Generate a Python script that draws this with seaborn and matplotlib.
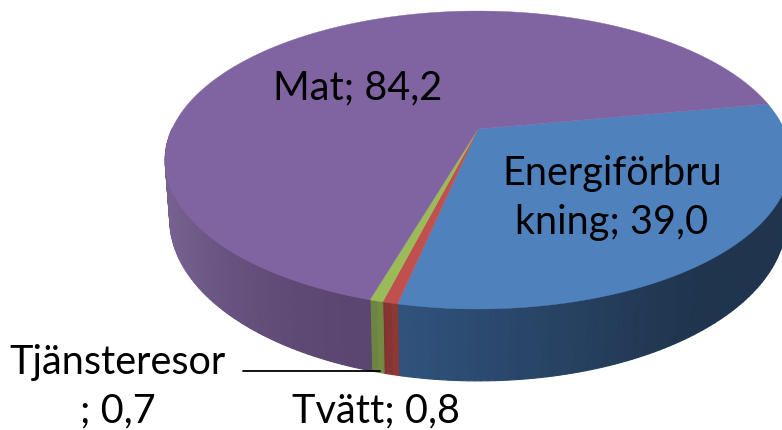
import numpy as np
import seaborn as sns
import matplotlib
matplotlib.use('Agg')
import matplotlib.pyplot as plt
from matplotlib.colors import to_rgb

labels = ['Energiförbru\nkning; 39,0', 'Tvätt; 0,8', 'Tjänsteresor\n; 0,7', 'Mat; 84,2']
values = [39.0, 0.8, 0.7, 84.2]
top_colors = ['#4f81bd', '#c0504d', '#9bbb59', '#8064a2']
wall_light = ['#30527c', '#8c3836', '#728a42', '#5a4670']
wall_dark = ['#1f344d', '#803230', '#6a8040', '#75608f']

sns.set_theme(style='white')
plt.rcParams['font.family'] = ['Lato', 'DejaVu Sans']

# pie geometry in picture pixels
cx, cy = 478, 130
rx, ry, k = 306, 142.5, 0.208
depth = 57
start = 10.5


def project(deg, lift=0.0, shrink=1.0):
    u = np.cos(np.radians(deg))
    v = np.sin(np.radians(deg))
    w = 1 + k * v
    return cx + shrink * rx * u / w, cy - ry * v / w + lift / w


fig, ax = plt.subplots(figsize=(7.82, 4.31), dpi=100)
fig.subplots_adjust(0, 0, 1, 1)
ax.set_xlim(0, 782)
ax.set_ylim(431, 0)
ax.axis('off')

angles = start - np.cumsum([0] + values) / sum(values) * 360
palette = sns.color_palette(top_colors)

# side wall, split in thin strips for the gradient
for i in range(4):
    a0, a1 = angles[i], angles[i + 1]
    steps = np.arange(a0, a1, -1.0).tolist() + [a1]
    for j in range(len(steps) - 1):
        b0, b1 = steps[j], steps[j + 1]
        mid = (b0 + b1) / 2
        if np.sin(np.radians(mid)) > 0.0:
            continue
        x0, y0 = project(b0)
        x1, y1 = project(b1)
        x2, y2 = project(b1, depth, 0.985)
        x3, y3 = project(b0, depth, 0.985)
        xm = (x0 + x1) / 2
        if i == 0:
            t = np.clip((xm - 400) / 300, 0, 1)
        elif i == 3:
            t = np.clip((370 - xm) / 200, 0, 1) ** 2
        else:
            t = j / max(len(steps) - 2, 1)
        c = np.array(to_rgb(wall_light[i])) * (1 - t) + np.array(to_rgb(wall_dark[i])) * t
        ax.fill([x0, x1, x2, x3], [y0, y1, y2, y3], color=c, lw=0.8, zorder=2)

# top face
for i in range(4):
    theta = np.linspace(angles[i], angles[i + 1], 200)
    xs, ys = project(theta)
    ax.fill(np.r_[cx, xs], np.r_[cy, ys], color=palette[i], lw=0.3, zorder=3)

ax.plot([243, 380], [372, 372], color='black', lw=1.3, zorder=4)

fs = 28.5
ax.text(612, 198, labels[0], fontsize=fs, color='black', ha='center', va='center', linespacing=1.37, zorder=5)
ax.text(376, 411, labels[1], fontsize=fs, color='black', ha='center', va='center', zorder=5)
ax.text(118, 387, labels[2], fontsize=fs, color='black', ha='center', va='center', linespacing=1.37, zorder=5)
ax.text(358, 88, labels[3], fontsize=fs, color='black', ha='center', va='center', zorder=5)

fig.savefig('out.png', dpi=100)
